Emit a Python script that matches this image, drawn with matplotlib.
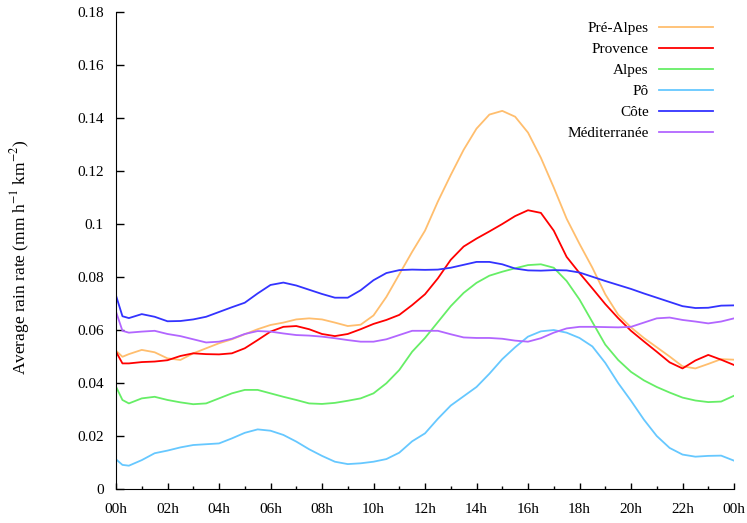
import numpy as np
import matplotlib
matplotlib.use("Agg")
import matplotlib.pyplot as plt
from matplotlib.ticker import MultipleLocator, FuncFormatter

plt.rcParams['font.family'] = ['Liberation Serif', 'DejaVu Serif']
plt.rcParams['mathtext.fontset'] = 'stix'

# heure locale (h), pas de 30 min avec un point en plus au début
hours = np.concatenate([[0.0, 0.25], np.arange(0.5, 24.01, 0.5)])

pre_alpes = [0.0522, 0.0499, 0.0509, 0.0525, 0.0516, 0.0493, 0.0487, 0.0512, 0.0531,
             0.0550, 0.0565, 0.0584, 0.0603, 0.0619, 0.0628, 0.0640, 0.0644, 0.0640,
             0.0628, 0.0615, 0.0620, 0.0655, 0.0725, 0.0810, 0.0895, 0.0975, 0.1085,
             0.1185, 0.1280, 0.1360, 0.1413, 0.1427, 0.1405, 0.1345, 0.1250, 0.1138,
             0.1020, 0.0925, 0.0835, 0.0735, 0.0658, 0.0610, 0.0570, 0.0535, 0.0500,
             0.0463, 0.0455, 0.0472, 0.0490, 0.0488]
provence = [0.0518, 0.0474, 0.0474, 0.0479, 0.0481, 0.0486, 0.0502, 0.0512, 0.0509,
            0.0508, 0.0512, 0.0531, 0.0562, 0.0594, 0.0612, 0.0615, 0.0603, 0.0585,
            0.0577, 0.0585, 0.0603, 0.0623, 0.0638, 0.0657, 0.0694, 0.0735, 0.0795,
            0.0865, 0.0915, 0.0945, 0.0972, 0.1000, 0.1030, 0.1052, 0.1042, 0.0975,
            0.0876, 0.0815, 0.0757, 0.0698, 0.0645, 0.0597, 0.0557, 0.0518, 0.0478,
            0.0455, 0.0485, 0.0506, 0.0488, 0.0468]
alpes = [0.0386, 0.0336, 0.0323, 0.0342, 0.0348, 0.0336, 0.0327, 0.0320, 0.0323,
         0.0342, 0.0361, 0.0374, 0.0374, 0.0361, 0.0348, 0.0336, 0.0323, 0.0321,
         0.0325, 0.0333, 0.0342, 0.0361, 0.0399, 0.0449, 0.0518, 0.0570, 0.0630,
         0.0690, 0.0740, 0.0778, 0.0805, 0.0820, 0.0833, 0.0845, 0.0848, 0.0835,
         0.0785, 0.0715, 0.0630, 0.0545, 0.0487, 0.0442, 0.0410, 0.0385, 0.0364,
         0.0345, 0.0334, 0.0328, 0.0330, 0.0352]
po = [0.0112, 0.0091, 0.0088, 0.0109, 0.0135, 0.0145, 0.0157, 0.0166, 0.0169,
      0.0172, 0.0191, 0.0212, 0.0225, 0.0220, 0.0204, 0.0179, 0.0150, 0.0125,
      0.0103, 0.0094, 0.0097, 0.0103, 0.0113, 0.0137, 0.0180, 0.0210, 0.0265,
      0.0315, 0.0350, 0.0385, 0.0435, 0.0490, 0.0535, 0.0575, 0.0595, 0.0600,
      0.0590, 0.0570, 0.0538, 0.0476, 0.0400, 0.0333, 0.0262, 0.0200, 0.0155,
      0.0130, 0.0122, 0.0125, 0.0126, 0.0107]
cote = [0.0730, 0.0652, 0.0645, 0.0660, 0.0650, 0.0633, 0.0634, 0.0640, 0.0650,
        0.0668, 0.0686, 0.0703, 0.0738, 0.0770, 0.0779, 0.0768, 0.0752, 0.0736,
        0.0722, 0.0722, 0.0750, 0.0788, 0.0815, 0.0826, 0.0828, 0.0827, 0.0828,
        0.0835, 0.0846, 0.0857, 0.0857, 0.0848, 0.0832, 0.0825, 0.0824, 0.0826,
        0.0825, 0.0817, 0.0801, 0.0785, 0.0770, 0.0755, 0.0738, 0.0722, 0.0706,
        0.0690, 0.0683, 0.0684, 0.0692, 0.0693]
mediterranee = [0.0669, 0.0597, 0.0590, 0.0594, 0.0597, 0.0585, 0.0577, 0.0565, 0.0553,
                0.0556, 0.0567, 0.0585, 0.0596, 0.0594, 0.0587, 0.0581, 0.0579, 0.0575,
                0.0569, 0.0562, 0.0556, 0.0556, 0.0565, 0.0581, 0.0597, 0.0597, 0.0597,
                0.0584, 0.0572, 0.0570, 0.0570, 0.0567, 0.0560, 0.0556, 0.0569, 0.0590,
                0.0606, 0.0612, 0.0612, 0.0611, 0.0610, 0.0612, 0.0628, 0.0644, 0.0647,
                0.0638, 0.0632, 0.0625, 0.0632, 0.0644]

series = [
    ("Pré-Alpes", pre_alpes, "#ffbe6e"),
    ("Provence", provence, "#ff0000"),
    ("Alpes", alpes, "#66ee66"),
    ("Pô", po, "#66c8ff"),
    ("Côte", cote, "#3333ff"),
    ("Méditerranée", mediterranee, "#b266ff"),
]

xtick_labels = ["00h", "02h", "04h", "06h", "08h", "10h", "12h",
                "14h", "16h", "18h", "20h", "22h", "00h"]

fig = plt.figure(figsize=(7.47, 5.23), dpi=100)
ax = fig.add_axes([0.1553, 0.065, 0.8273, 0.912])

for name, vals, col in series:
    ax.plot(hours, vals, color=col, lw=1.3, label=name)

ax.set_xlim(0, 24)
ax.set_ylim(0, 0.18)
ax.xaxis.set_minor_locator(MultipleLocator(1))
ax.set_xticks(np.arange(0, 25, 2))
ax.set_xticklabels(xtick_labels)
ax.yaxis.set_major_locator(MultipleLocator(0.02))
ax.yaxis.set_major_formatter(FuncFormatter(lambda v, p: f"{v:g}"))

ax.tick_params(axis='both', which='major', direction='in', width=1, labelsize=11)
ax.tick_params(axis='x', which='major', length=4.5, pad=10)
ax.tick_params(axis='x', which='minor', direction='in', length=2.5, width=1)
ax.tick_params(axis='y', which='major', length=5.5, pad=9)
ax.spines['top'].set_visible(False)
ax.spines['right'].set_visible(False)

# titre de l'axe y placé à la main dans la marge gauche
fig.text(20 / 747, 1 - 257 / 523, r"Average rain rate (mm h$^{-1}$ km$^{-2}$)",
         rotation=90, ha='center', va='center', fontsize=12.5)

ax.legend(loc='upper right', frameon=False, markerfirst=False, fontsize=11,
          handlelength=3.5, handletextpad=0.7, labelspacing=0.48,
          borderaxespad=0.3, bbox_to_anchor=(0.983, 1.003))

fig.savefig("out.png", dpi=100)
